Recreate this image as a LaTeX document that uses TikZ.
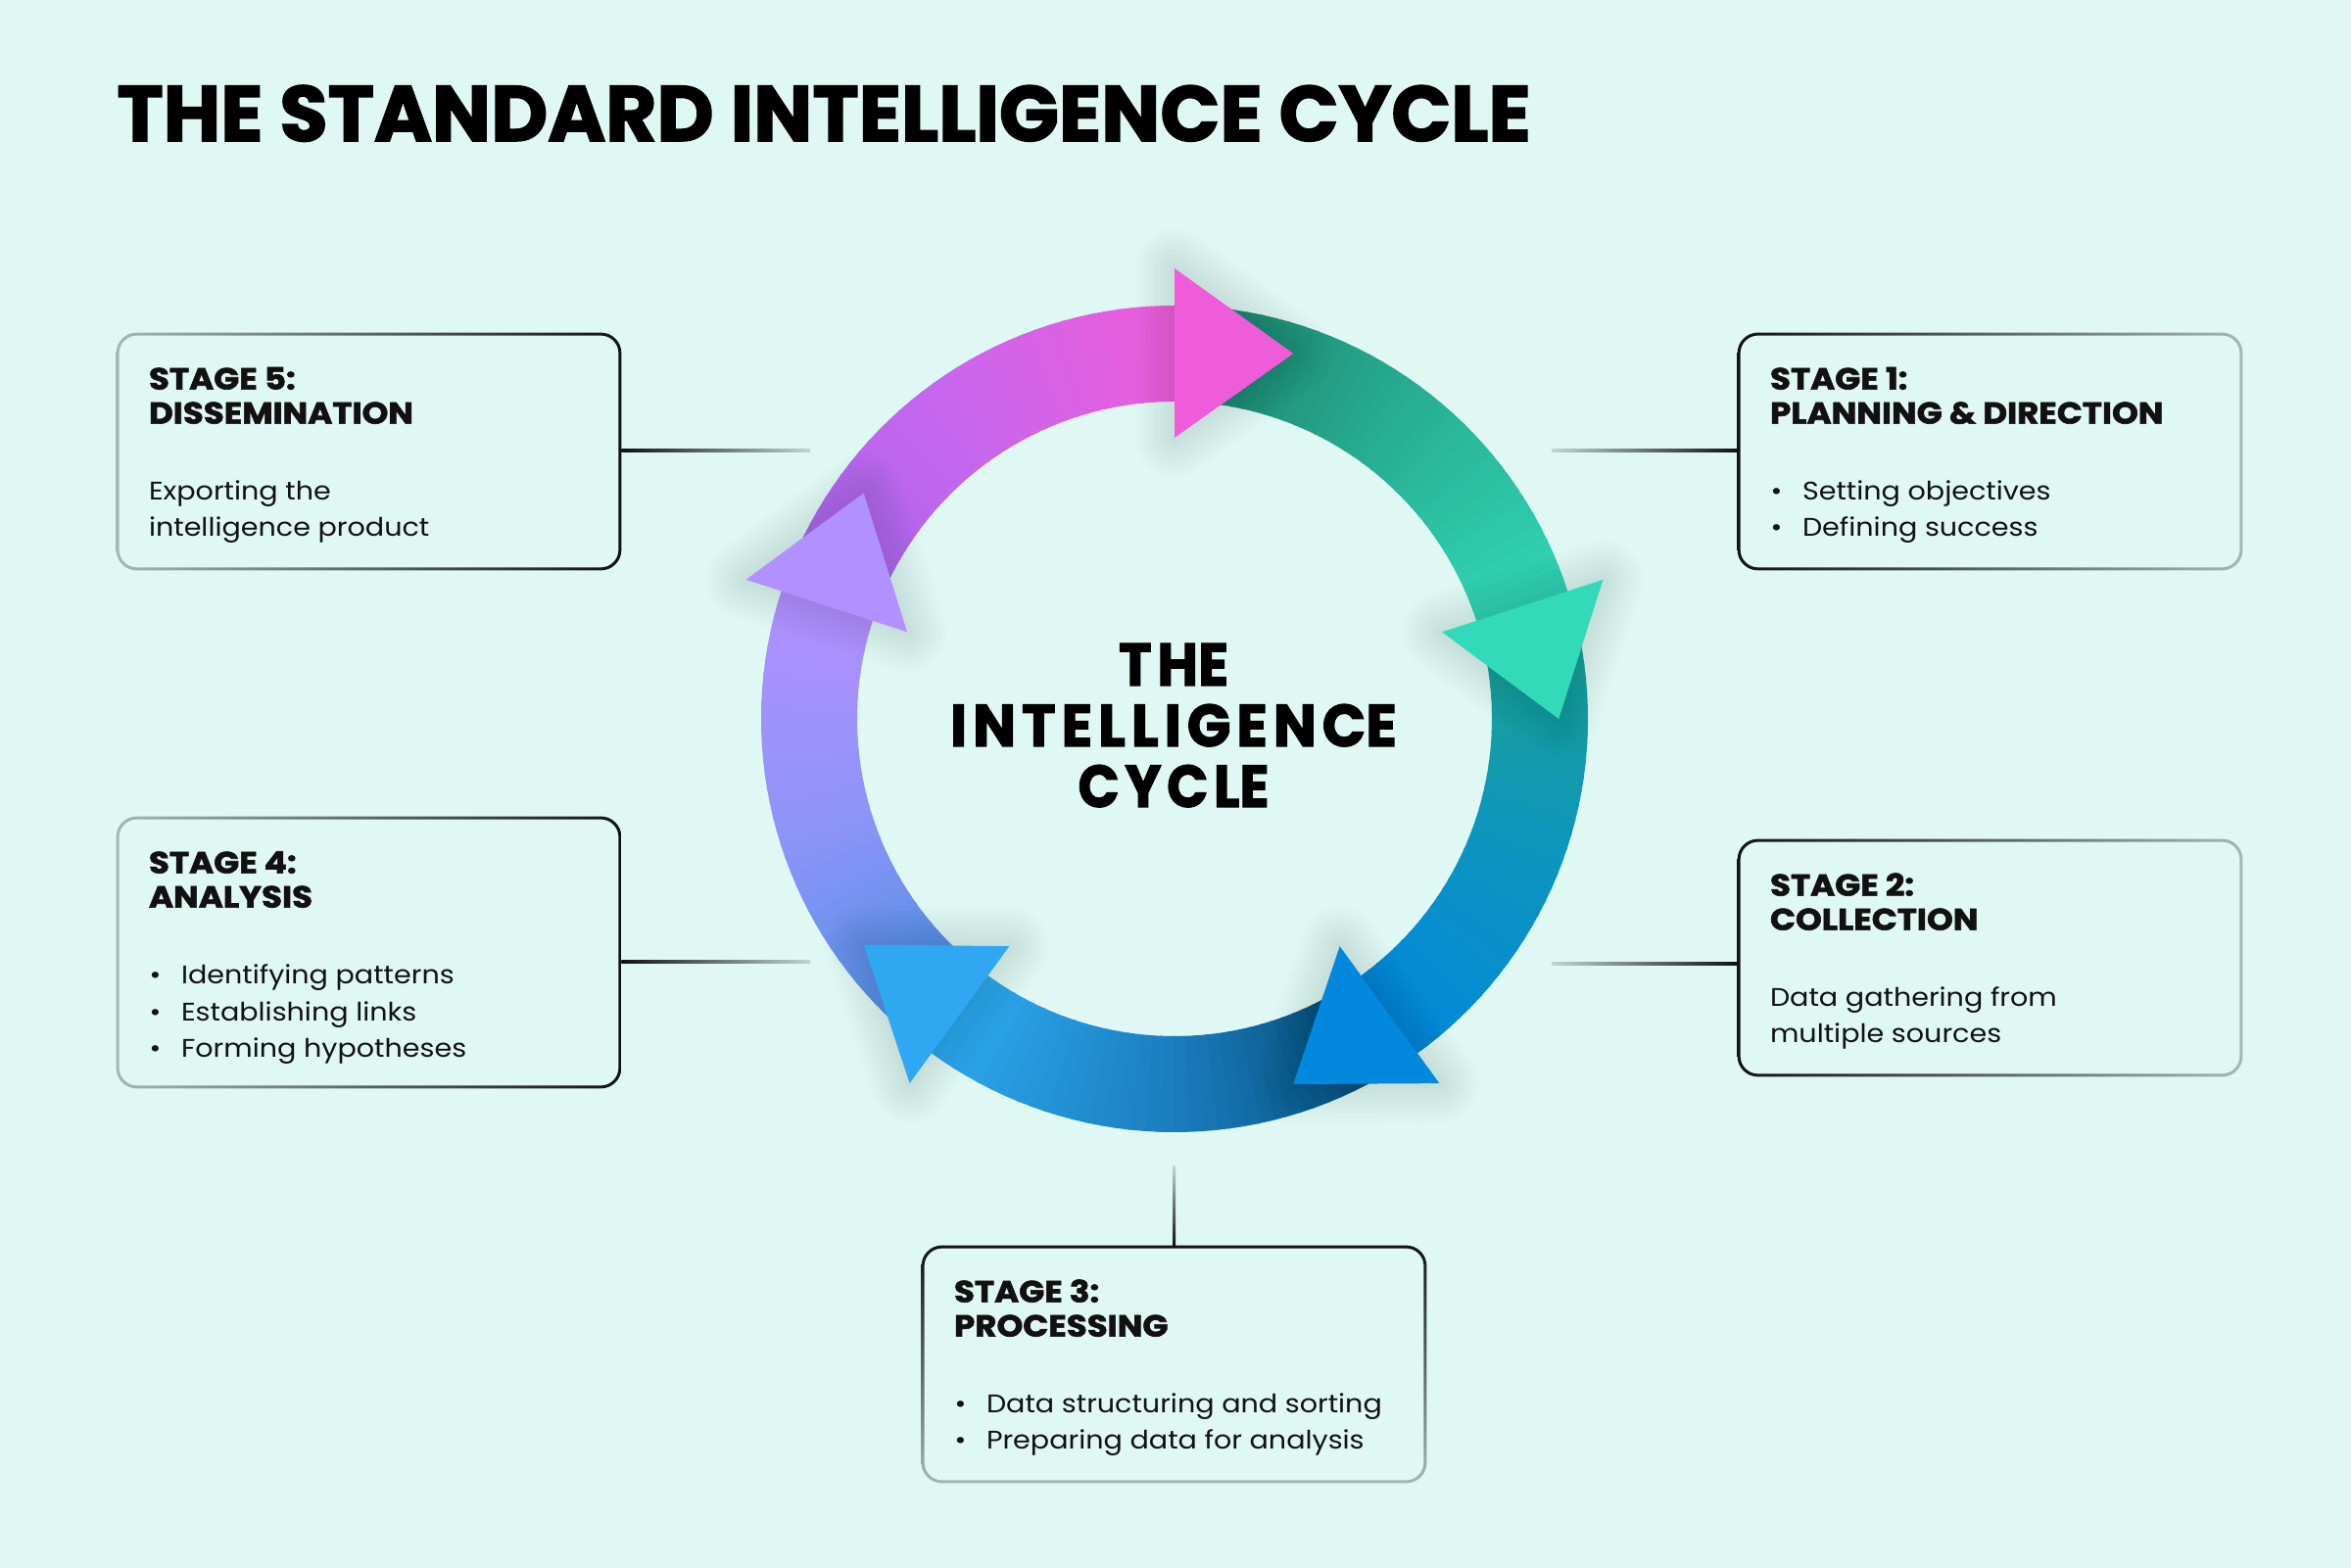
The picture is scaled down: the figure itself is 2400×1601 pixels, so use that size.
\documentclass[tikz,border=0pt]{standalone}
\usepackage{fontspec}
\setmainfont{Poppins}[BoldFeatures={FakeBold=2}]
\newfontfamily\bodyfont{Poppins}[FakeStretch=1.1]
\newfontfamily\headfont{Poppins}[FakeStretch=1.1, BoldFeatures={FakeBold=2}]
\usepackage{graphicx}
\definecolor{bg}{HTML}{E0F8F4}
\definecolor{ink}{HTML}{111111}
\definecolor{fadeg}{HTML}{A3B8B4}
\definecolor{p0}{HTML}{A364EC}\definecolor{p1}{HTML}{C867EE}\definecolor{p2}{HTML}{EC5CDB}\definecolor{ph}{HTML}{EE5CD9}
\definecolor{g0}{HTML}{1D7E69}\definecolor{g1}{HTML}{27AD93}\definecolor{g2}{HTML}{31D6B6}\definecolor{gh}{HTML}{33DAB9}
\definecolor{d0}{HTML}{1EA48C}\definecolor{d1}{HTML}{0E96BC}\definecolor{d2}{HTML}{0288DA}\definecolor{dh}{HTML}{0288DC}
\definecolor{l0}{HTML}{04416C}\definecolor{l1}{HTML}{1A7DBE}\definecolor{l2}{HTML}{2EA8EE}\definecolor{lh}{HTML}{2FA8F1}
\definecolor{v0}{HTML}{4790E0}\definecolor{v1}{HTML}{8C94F8}\definecolor{v2}{HTML}{B290FF}\definecolor{vh}{HTML}{B190FF}

\tikzset{
  stagebox/.style={rectangle, minimum width=257.5pt, minimum height=121pt, inner sep=0pt},
  headtxt/.style={anchor=base west, inner sep=0pt, font=\headfont\fontsize{15.5pt}{18pt}\selectfont\bfseries, text=ink},
  bodytxt/.style={anchor=base west, inner sep=0pt, font=\bodyfont\fontsize{13pt}{19pt}\selectfont, text=ink},
  bul/.style={anchor=base, inner sep=0pt, font=\bodyfont\fontsize{13pt}{19pt}\selectfont, text=ink},
  centretxt/.style={anchor=base, inner sep=0pt, text=black},
}

\newcommand\ringbody[5]{%
  \foreach \i in {0,...,35}{%
    \pgfmathsetmacro\aS{#1-(#1-(#2))*\i/36}%
    \pgfmathsetmacro\aE{#1-(#1-(#2))*(\i+1)/36-0.5}%
    \pgfmathsetmacro\myT{(\i+0.5)/36}%
    \ifdim \myT pt<0.5pt
      \pgfmathsetmacro\myP{200*\myT}%
      \colorlet{slc}{#4!\myP!#3}%
    \else
      \pgfmathsetmacro\myP{200*(\myT-0.5)}%
      \colorlet{slc}{#5!\myP!#4}%
    \fi
    \fill[slc] (\aS:422) arc[start angle=\aS, end angle=\aE, radius=422] -- (\aE:324) arc[start angle=\aE, end angle=\aS, radius=324] -- cycle;
  }%
}
\newcommand\ringhead[2]{%
  \pgfmathsetmacro\tipA{#1-18}%
  \foreach \w in {40pt,35pt,30pt,25pt,20pt,15pt,10pt,5pt}{%
    \draw[black!80!teal, opacity=0.013, line width=\w, line join=round] (#1:287) -- (#1:460) -- (\tipA:392.2) -- cycle;
  }%
  \fill[#2] (#1:287) -- (#1:460) -- (\tipA:392.2) -- cycle;
}
\newcommand\boxborder[2]{%
  \shade[even odd rule, #2, rounded corners=10.5pt] (#1.south west) rectangle (#1.north east)
    [rounded corners=9pt] ([xshift=1.5pt,yshift=1.5pt]#1.south west) rectangle ([xshift=-1.5pt,yshift=-1.5pt]#1.north east);
}

\begin{document}
\begin{tikzpicture}[x=0.5pt,y=0.5pt]
\useasboundingbox (0,0) rectangle (2400,1601);
\fill[bg] (0,0) rectangle (2400,1601);

% title
\node[anchor=base west, inner sep=0pt] (title) at (119,1457) {\resizebox{721.5pt}{28.5pt}{\bfseries THE STANDARD INTELLIGENCE CYCLE}};

% boxes
\node[stagebox] (b5) at (376.5,1140) {};
\node[stagebox] (b1) at (2031.5,1140) {};
\node[stagebox, minimum height=138.5pt] (b4) at (376.5,628.5) {};
\node[stagebox] (b3) at (1198.5,208) {};
\node[stagebox] (b2) at (2031.5,623) {};

% connector ends
\coordinate (c5) at (827,1141);
\coordinate (c1) at (1584,1141);
\coordinate (c4) at (827,619);
\coordinate (c2) at (1584,617);
\coordinate (c3) at (1198.5,410);
\coordinate (s5) at (b5.east |- c5);
\coordinate (s1) at (b1.west |- c1);
\coordinate (s4) at (b4.east |- c4);
\coordinate (s2) at (b2.west |- c2);

\shade[left color=ink, right color=fadeg!55!bg] ([yshift=-0.75pt]s5) rectangle ([yshift=0.75pt]c5);
\shade[left color=ink, right color=fadeg!55!bg] ([yshift=-0.75pt]s4) rectangle ([yshift=0.75pt]c4);
\shade[left color=fadeg!55!bg, right color=ink] ([yshift=-0.75pt]c1) rectangle ([yshift=0.75pt]s1);
\shade[left color=fadeg!55!bg, right color=ink] ([yshift=-0.75pt]c2) rectangle ([yshift=0.75pt]s2);
\shade[top color=fadeg!55!bg, bottom color=ink] ([xshift=-0.75pt]b3.north) rectangle ([xshift=0.75pt]c3);

\boxborder{b5}{left color=fadeg, right color=ink}
\boxborder{b4}{left color=fadeg, right color=ink}
\boxborder{b1}{left color=ink, right color=fadeg}
\boxborder{b2}{left color=ink, right color=fadeg}
\boxborder{b3}{top color=ink, bottom color=fadeg}

% ring
\begin{scope}[shift={(1199,867)}]
  \ringbody{162}{90}{p0}{p1}{p2}
  \ringbody{90}{18}{g0}{g1}{g2}
  \ringbody{18}{-54}{d0}{d1}{d2}
  \ringbody{-54}{-126}{l0}{l1}{l2}
  \ringbody{-126}{-198}{v0}{v1}{v2}
  \ringhead{90}{ph}
  \ringhead{18}{gh}
  \ringhead{-54}{dh}
  \ringhead{-126}{lh}
  \ringhead{-198}{vh}
\end{scope}

% centre text
\node[centretxt] (cthe) at (1198,901) {\resizebox{56pt}{21.5pt}{\bfseries{\addfontfeatures{LetterSpace=10}TH}E}};
\node[centretxt] (cint) at (1198,839) {\resizebox{228pt}{21.5pt}{\bfseries{\addfontfeatures{LetterSpace=10}INTELLIGENC}E}};
\node[centretxt] (ccyc) at (1198,777) {\resizebox{97.5pt}{21.5pt}{\bfseries{\addfontfeatures{LetterSpace=10}CYCL}E}};

% stage 5
\node[headtxt] (h5a) at ([xshift=16.5pt,yshift=-29pt]b5.north west) {STAGE 5:};
\node[headtxt] (h5b) at ([xshift=16.5pt,yshift=-46.5pt]b5.north west) {DISSEMINATION};
\node[bodytxt] (t5a) at ([xshift=16.5pt,yshift=-85.5pt]b5.north west) {Exporting the};
\node[bodytxt] (t5b) at ([xshift=16.5pt,yshift=-104pt]b5.north west) {intelligence product};

% stage 1
\node[headtxt] (h1a) at ([xshift=16.5pt,yshift=-29pt]b1.north west) {STAGE 1:};
\node[headtxt] (h1b) at ([xshift=16.5pt,yshift=-46.5pt]b1.north west) {PLANNING \& DIRECTION};
\node[bul] (u1a) at ([xshift=20pt,yshift=-85.5pt]b1.north west) {•};
\node[bodytxt] (t1a) at ([xshift=33pt,yshift=-85.5pt]b1.north west) {Setting objectives};
\node[bul] (u1b) at ([xshift=20pt,yshift=-104pt]b1.north west) {•};
\node[bodytxt] (t1b) at ([xshift=33pt,yshift=-104pt]b1.north west) {Defining success};

% stage 4
\node[headtxt] (h4a) at ([xshift=16.5pt,yshift=-29pt]b4.north west) {STAGE 4:};
\node[headtxt] (h4b) at ([xshift=16.5pt,yshift=-46.5pt]b4.north west) {ANALYSIS};
\node[bul] (u4a) at ([xshift=20pt,yshift=-85.5pt]b4.north west) {•};
\node[bodytxt] (t4a) at ([xshift=33pt,yshift=-85.5pt]b4.north west) {Identifying patterns};
\node[bul] (u4b) at ([xshift=20pt,yshift=-104.25pt]b4.north west) {•};
\node[bodytxt] (t4b) at ([xshift=33pt,yshift=-104.25pt]b4.north west) {Establishing links};
\node[bul] (u4c) at ([xshift=20pt,yshift=-123pt]b4.north west) {•};
\node[bodytxt] (t4c) at ([xshift=33pt,yshift=-123pt]b4.north west) {Forming hypotheses};

% stage 3
\node[headtxt] (h3a) at ([xshift=16.5pt,yshift=-29pt]b3.north west) {STAGE 3:};
\node[headtxt] (h3b) at ([xshift=16.5pt,yshift=-46.5pt]b3.north west) {PROCESSING};
\node[bul] (u3a) at ([xshift=20pt,yshift=-85.5pt]b3.north west) {•};
\node[bodytxt] (t3a) at ([xshift=33pt,yshift=-85.5pt]b3.north west) {Data structuring and sorting};
\node[bul] (u3b) at ([xshift=20pt,yshift=-104pt]b3.north west) {•};
\node[bodytxt] (t3b) at ([xshift=33pt,yshift=-104pt]b3.north west) {Preparing data for analysis};

% stage 2
\node[headtxt] (h2a) at ([xshift=16.5pt,yshift=-29pt]b2.north west) {STAGE 2:};
\node[headtxt] (h2b) at ([xshift=16.5pt,yshift=-46.5pt]b2.north west) {COLLECTION};
\node[bodytxt] (t2a) at ([xshift=16.5pt,yshift=-85.5pt]b2.north west) {Data gathering from};
\node[bodytxt] (t2b) at ([xshift=16.5pt,yshift=-104pt]b2.north west) {multiple sources};
\end{tikzpicture}
\end{document}
